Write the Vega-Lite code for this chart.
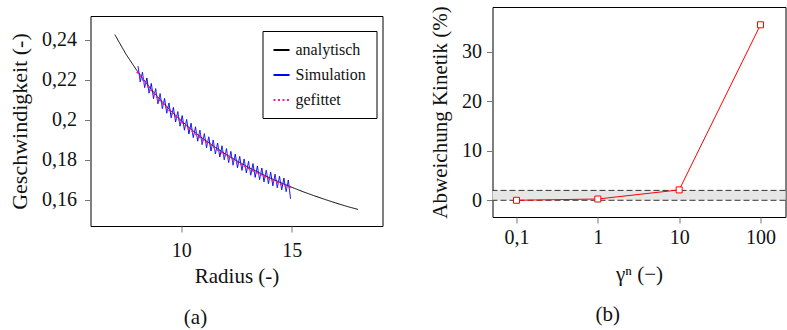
{
  "$schema": "https://vega.github.io/schema/vega-lite/v6.json",
  "padding": {"left": 7.5, "top": 5, "right": 1, "bottom": 4},
  "config": {
    "font": "Liberation Serif, Times New Roman, serif",
    "view": {"stroke": "black", "strokeWidth": 1},
    "axis": {"grid": false, "domain": false, "labelFont": "Liberation Serif, Times New Roman, serif", "titleFont": "Liberation Serif, Times New Roman, serif", "labelFontSize": 20, "titleFontSize": 21, "titleFontWeight": "normal", "labelColor": "#111", "titleColor": "#111", "tickColor": "#777", "tickSize": 6},
    "legend": {"labelFont": "Liberation Serif, Times New Roman, serif"},
    "title": {"font": "Liberation Serif, Times New Roman, serif"}
  },
  "hconcat": [
    {
      "spacing": 0,
      "vconcat": [
        {
          "width": 292,
          "height": 8,
          "view": {"stroke": null},
          "data": {"values": [{"z": 0}]},
          "mark": {"type": "point", "opacity": 0},
          "encoding": {}
        },
        {
          "width": 292,
          "height": 210,
          "title": {"text": "(a)", "orient": "bottom", "frame": "bounds", "anchor": "middle", "offset": 21, "fontSize": 21, "fontWeight": "normal", "color": "#111"},
          "data": {"values": [
            {"s": "analytisch", "r": 7, "v": 0.2425},
            {"s": "analytisch", "r": 7.5, "v": 0.2328},
            {"s": "analytisch", "r": 8, "v": 0.2245},
            {"s": "analytisch", "r": 8.5, "v": 0.2171},
            {"s": "analytisch", "r": 9, "v": 0.2106},
            {"s": "analytisch", "r": 9.5, "v": 0.2048},
            {"s": "analytisch", "r": 10, "v": 0.1995},
            {"s": "analytisch", "r": 10.5, "v": 0.1947},
            {"s": "analytisch", "r": 11, "v": 0.1904},
            {"s": "analytisch", "r": 11.5, "v": 0.1865},
            {"s": "analytisch", "r": 12, "v": 0.1828},
            {"s": "analytisch", "r": 12.5, "v": 0.1795},
            {"s": "analytisch", "r": 13, "v": 0.1764},
            {"s": "analytisch", "r": 13.5, "v": 0.1736},
            {"s": "analytisch", "r": 14, "v": 0.1709},
            {"s": "analytisch", "r": 14.5, "v": 0.1685},
            {"s": "analytisch", "r": 15, "v": 0.1662},
            {"s": "analytisch", "r": 15.5, "v": 0.164},
            {"s": "analytisch", "r": 16, "v": 0.162},
            {"s": "analytisch", "r": 16.5, "v": 0.1601},
            {"s": "analytisch", "r": 17, "v": 0.1583},
            {"s": "analytisch", "r": 17.5, "v": 0.1566},
            {"s": "analytisch", "r": 18, "v": 0.1551},
            {"s": "Simulation", "r": 8.05, "v": 0.2267},
            {"s": "Simulation", "r": 8.15, "v": 0.2189},
            {"s": "Simulation", "r": 8.25, "v": 0.2237},
            {"s": "Simulation", "r": 8.35, "v": 0.216},
            {"s": "Simulation", "r": 8.45, "v": 0.2208},
            {"s": "Simulation", "r": 8.55, "v": 0.2132},
            {"s": "Simulation", "r": 8.65, "v": 0.2181},
            {"s": "Simulation", "r": 8.75, "v": 0.2105},
            {"s": "Simulation", "r": 8.85, "v": 0.2155},
            {"s": "Simulation", "r": 8.95, "v": 0.2079},
            {"s": "Simulation", "r": 9.05, "v": 0.213},
            {"s": "Simulation", "r": 9.15, "v": 0.2055},
            {"s": "Simulation", "r": 9.25, "v": 0.2106},
            {"s": "Simulation", "r": 9.35, "v": 0.2032},
            {"s": "Simulation", "r": 9.45, "v": 0.2083},
            {"s": "Simulation", "r": 9.55, "v": 0.2009},
            {"s": "Simulation", "r": 9.65, "v": 0.2061},
            {"s": "Simulation", "r": 9.75, "v": 0.1988},
            {"s": "Simulation", "r": 9.85, "v": 0.204},
            {"s": "Simulation", "r": 9.95, "v": 0.1967},
            {"s": "Simulation", "r": 10.05, "v": 0.202},
            {"s": "Simulation", "r": 10.15, "v": 0.1947},
            {"s": "Simulation", "r": 10.25, "v": 0.2001},
            {"s": "Simulation", "r": 10.35, "v": 0.1928},
            {"s": "Simulation", "r": 10.45, "v": 0.1982},
            {"s": "Simulation", "r": 10.55, "v": 0.191},
            {"s": "Simulation", "r": 10.65, "v": 0.1964},
            {"s": "Simulation", "r": 10.75, "v": 0.1892},
            {"s": "Simulation", "r": 10.85, "v": 0.1947},
            {"s": "Simulation", "r": 10.95, "v": 0.1875},
            {"s": "Simulation", "r": 11.05, "v": 0.193},
            {"s": "Simulation", "r": 11.15, "v": 0.1859},
            {"s": "Simulation", "r": 11.25, "v": 0.1914},
            {"s": "Simulation", "r": 11.35, "v": 0.1843},
            {"s": "Simulation", "r": 11.45, "v": 0.1898},
            {"s": "Simulation", "r": 11.55, "v": 0.1828},
            {"s": "Simulation", "r": 11.65, "v": 0.1883},
            {"s": "Simulation", "r": 11.75, "v": 0.1813},
            {"s": "Simulation", "r": 11.85, "v": 0.1869},
            {"s": "Simulation", "r": 11.95, "v": 0.1799},
            {"s": "Simulation", "r": 12.05, "v": 0.1855},
            {"s": "Simulation", "r": 12.15, "v": 0.1785},
            {"s": "Simulation", "r": 12.25, "v": 0.1841},
            {"s": "Simulation", "r": 12.35, "v": 0.1772},
            {"s": "Simulation", "r": 12.45, "v": 0.1828},
            {"s": "Simulation", "r": 12.55, "v": 0.1759},
            {"s": "Simulation", "r": 12.65, "v": 0.1816},
            {"s": "Simulation", "r": 12.75, "v": 0.1746},
            {"s": "Simulation", "r": 12.85, "v": 0.1803},
            {"s": "Simulation", "r": 12.95, "v": 0.1734},
            {"s": "Simulation", "r": 13.05, "v": 0.1791},
            {"s": "Simulation", "r": 13.15, "v": 0.1722},
            {"s": "Simulation", "r": 13.25, "v": 0.178},
            {"s": "Simulation", "r": 13.35, "v": 0.1711},
            {"s": "Simulation", "r": 13.45, "v": 0.1768},
            {"s": "Simulation", "r": 13.55, "v": 0.17},
            {"s": "Simulation", "r": 13.65, "v": 0.1758},
            {"s": "Simulation", "r": 13.75, "v": 0.1689},
            {"s": "Simulation", "r": 13.85, "v": 0.1747},
            {"s": "Simulation", "r": 13.95, "v": 0.1679},
            {"s": "Simulation", "r": 14.05, "v": 0.1737},
            {"s": "Simulation", "r": 14.15, "v": 0.1669},
            {"s": "Simulation", "r": 14.25, "v": 0.1727},
            {"s": "Simulation", "r": 14.35, "v": 0.1659},
            {"s": "Simulation", "r": 14.45, "v": 0.1717},
            {"s": "Simulation", "r": 14.55, "v": 0.1649},
            {"s": "Simulation", "r": 14.65, "v": 0.1708},
            {"s": "Simulation", "r": 14.75, "v": 0.164},
            {"s": "Simulation", "r": 14.85, "v": 0.1698},
            {"s": "Simulation", "r": 14.95, "v": 0.1604},
            {"s": "gefittet", "r": 8.0, "v": 0.224},
            {"s": "gefittet", "r": 8.5, "v": 0.2166},
            {"s": "gefittet", "r": 9.0, "v": 0.2101},
            {"s": "gefittet", "r": 9.5, "v": 0.2043},
            {"s": "gefittet", "r": 10.0, "v": 0.199},
            {"s": "gefittet", "r": 10.5, "v": 0.1942},
            {"s": "gefittet", "r": 11.0, "v": 0.1899},
            {"s": "gefittet", "r": 11.5, "v": 0.186},
            {"s": "gefittet", "r": 12.0, "v": 0.1823},
            {"s": "gefittet", "r": 12.5, "v": 0.179},
            {"s": "gefittet", "r": 13.0, "v": 0.1759},
            {"s": "gefittet", "r": 13.5, "v": 0.1731},
            {"s": "gefittet", "r": 14.0, "v": 0.1704},
            {"s": "gefittet", "r": 14.5, "v": 0.168},
            {"s": "gefittet", "r": 15.0, "v": 0.1655}
          ]},
          "encoding": {
            "x": {"field": "r", "type": "quantitative", "scale": {"domain": [5.9, 19.11], "nice": false, "zero": false},
                  "axis": {"values": [10, 15], "title": "Radius (-)", "labelPadding": 8, "titlePadding": 5}},
            "y": {"field": "v", "type": "quantitative", "scale": {"domain": [0.1468, 0.2518], "nice": false, "zero": false},
                  "axis": {"values": [0.16, 0.18, 0.2, 0.22, 0.24], "format": "~g", "labelExpr": "replace(datum.label, '.', ',')", "title": "Geschwindigkeit (-)", "labelPadding": 8, "titlePadding": 10, "titleFontSize": 22}},
            "color": {"field": "s", "type": "nominal", "scale": {"domain": ["analytisch", "Simulation", "gefittet"], "range": ["black", "#0000ff", "#ff1a8c"]},
                      "legend": {"title": null, "orient": "none", "legendX": 172, "legendY": 24, "strokeColor": "black", "fillColor": "white", "padding": 10, "rowPadding": 8, "labelFontSize": 16, "labelColor": "#111", "symbolType": "stroke", "symbolSize": 256, "symbolStrokeWidth": 2, "labelOffset": 5}},
            "strokeDash": {"field": "s", "type": "nominal", "scale": {"domain": ["analytisch", "Simulation", "gefittet"], "range": [[1, 0], [1, 0], [2, 2.5]]},
                      "legend": {"title": null, "orient": "none", "legendX": 172, "legendY": 24, "strokeColor": "black", "fillColor": "white", "padding": 10, "rowPadding": 8, "labelFontSize": 16, "labelColor": "#111", "symbolType": "stroke", "symbolSize": 256, "symbolStrokeWidth": 2, "labelOffset": 5}}
          },
          "layer": [
            {"transform": [{"filter": "datum.s == 'analytisch'"}], "mark": {"type": "line", "strokeWidth": 1}},
            {"transform": [{"filter": "datum.s == 'Simulation'"}], "mark": {"type": "line", "strokeWidth": 1}},
            {"transform": [{"filter": "datum.s == 'gefittet'"}], "mark": {"type": "line", "strokeWidth": 2}}
          ]
        }
      ]
    },
    {
      "width": 293,
      "height": 210,
      "title": {"text": "(b)", "orient": "bottom", "frame": "bounds", "anchor": "middle", "offset": 20, "fontSize": 21, "fontWeight": "normal", "color": "#111"},
      "layer": [
        {
          "data": {"values": [{"lo": 0, "hi": 2}]},
          "mark": {"type": "rect", "color": "#e6e6e6"},
          "encoding": {"y": {"field": "lo", "type": "quantitative"}, "y2": {"field": "hi"}}
        },
        {
          "data": {"values": [{"lv": 0}, {"lv": 2}]},
          "mark": {"type": "rule", "color": "#333", "strokeWidth": 1, "strokeDash": [6, 3]},
          "encoding": {"y": {"field": "lv", "type": "quantitative"}}
        },
        {
          "data": {"values": [{"g": 0.1, "d": 0}, {"g": 1, "d": 0.26}, {"g": 10, "d": 2.1}, {"g": 100, "d": 35.5}]},
          "layer": [
            {"mark": {"type": "line", "color": "#ff0000", "strokeWidth": 1}, "encoding": {}},
            {"mark": {"type": "point", "shape": "square", "filled": true, "fill": "white", "stroke": "#ff0000", "strokeWidth": 1, "size": 36, "opacity": 1}, "encoding": {}}
          ],
          "encoding": {
            "x": {"field": "g", "type": "quantitative", "scale": {"type": "log", "domain": [0.0507, 203], "nice": false},
                  "axis": {"values": [0.1, 1, 10, 100], "labelExpr": "datum.value < 0.5 ? '0,1' : format(datum.value, 'd')", "title": "γⁿ (−)", "labelPadding": 4, "titlePadding": 16}},
            "y": {"field": "d", "type": "quantitative", "scale": {"domain": [-3.38, 39.1], "nice": false, "zero": false},
                  "axis": {"values": [0, 10, 20, 30], "title": "Abweichung Kinetik (%)", "labelPadding": 5, "titlePadding": 11}}
          }
        }
      ]
    }
  ],
  "spacing": 45
}
